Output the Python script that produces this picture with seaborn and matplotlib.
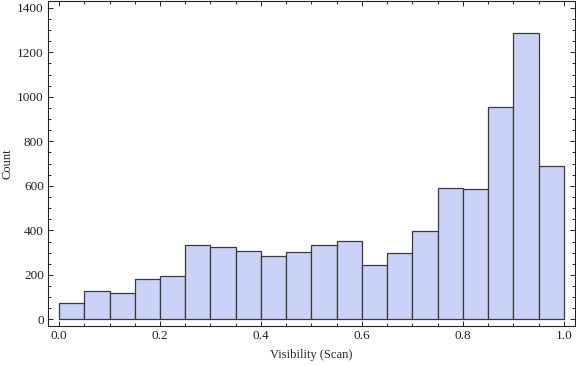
import numpy as np
import pandas as pd
import matplotlib
matplotlib.use("Agg")
import matplotlib.pyplot as plt
from matplotlib.ticker import MultipleLocator
import seaborn as sns

# histogram bins (width 0.05) and counts
bin_edges = [round(0.05 * i, 2) for i in range(21)]
counts = [72, 126, 117, 180, 193, 333, 324, 306, 283, 301,
          333, 351, 243, 297, 396, 589, 584, 953, 1285, 688]
bin_centers = [(a + b) / 2 for a, b in zip(bin_edges[:-1], bin_edges[1:])]

df = pd.DataFrame({"visibility": bin_centers, "count": counts})

sns.set_style("ticks")
plt.rcParams['font.family'] = ['Liberation Serif', 'DejaVu Serif']

fig = plt.figure(figsize=(5.76, 3.66), dpi=100)
ax = fig.add_axes([0.0833, 0.109, 0.9147, 0.888])

sns.histplot(data=df, x="visibility", weights="count", bins=bin_edges,
             color="#CBD2F7", alpha=1.0, edgecolor="#3a3a3a", linewidth=0.9, ax=ax)

ax.set_xlim(-0.022, 1.022)
ax.set_ylim(-30, 1430)
ax.xaxis.set_major_locator(MultipleLocator(0.2))
ax.xaxis.set_minor_locator(MultipleLocator(0.05))
ax.yaxis.set_major_locator(MultipleLocator(200))
ax.yaxis.set_minor_locator(MultipleLocator(50))
ax.xaxis.set_major_formatter(matplotlib.ticker.FormatStrFormatter('%.1f'))

ax.tick_params(which="both", direction="in", top=True, right=True,
               labelsize=9.5, colors="#222222", width=0.7, pad=3)
ax.tick_params(which="major", length=3.5)
ax.tick_params(which="minor", length=2)
for s in ax.spines.values():
    s.set_visible(True)
    s.set_linewidth(0.8)
    s.set_color("#222222")

ax.set_xlabel("Visibility (Scan)", fontsize=9, labelpad=5)
ax.set_ylabel("Count", fontsize=9, labelpad=3)

fig.savefig("out.png", dpi=100)
